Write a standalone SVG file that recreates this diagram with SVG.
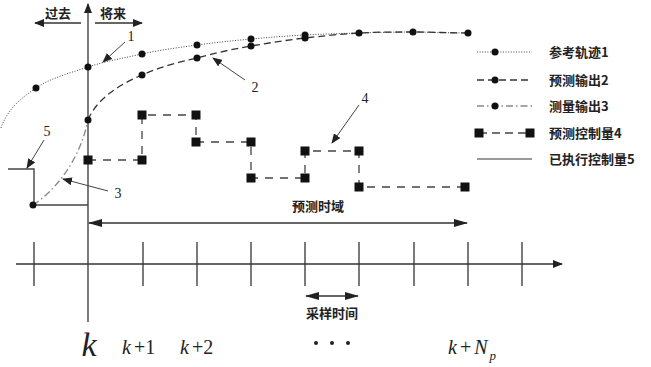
<svg xmlns="http://www.w3.org/2000/svg" width="651" height="367" viewBox="0 0 651 367">
<defs>
<marker id="ah" markerWidth="10" markerHeight="8" refX="9" refY="4" orient="auto" markerUnits="userSpaceOnUse"><path d="M0,0 L10,4 L0,8 Z" fill="#222"/></marker>
<marker id="ahs" markerWidth="14" markerHeight="8" refX="13" refY="4" orient="auto-start-reverse" markerUnits="userSpaceOnUse"><path d="M0,0 L14,4 L0,8 Z" fill="#222"/></marker>
<circle id="dot" r="3.5" fill="#111"/>
<rect id="sq" x="-4.5" y="-4.5" width="9" height="9" fill="#111"/>
</defs>
<style>
.ax{stroke:#333;stroke-width:1.3;fill:none}
.ref{stroke:#444;stroke-width:1;stroke-dasharray:1 1.6;fill:none}
.pred{stroke:#333;stroke-width:1.3;stroke-dasharray:7 4;fill:none}
.meas{stroke:#888;stroke-width:1.3;stroke-dasharray:7 3 1.5 3;fill:none}
.ctl{stroke:#444;stroke-width:1.3;stroke-dasharray:8 7;fill:none}
.exe{stroke:#444;stroke-width:1.4;fill:none}
.lead{stroke:#444;stroke-width:1;fill:none}
.cn{font-family:"Noto Sans CJK SC","Noto Sans",sans-serif;font-weight:bold;font-size:13px;fill:#222}
.num{font-family:"Liberation Serif",serif;font-size:14px;fill:#222}
.mt{font-family:"Liberation Serif",serif;font-style:italic;fill:#222}
.mr{font-family:"Liberation Serif",serif;fill:#222}
</style>

<g id="connectors">
<!-- vertical axis -->
<line class="ax" x1="88" y1="322" x2="88" y2="4" marker-end="url(#ah)"/>
<!-- past / future arrows -->
<line class="ax" x1="81" y1="23" x2="35" y2="23" marker-end="url(#ah)"/>
<line class="ax" x1="95" y1="23" x2="142" y2="23" marker-end="url(#ah)"/>
<!-- time axis -->
<line class="ax" x1="16" y1="264" x2="562" y2="264" marker-end="url(#ah)"/>
<g class="ax">
<line x1="34" y1="242" x2="34" y2="286"/>
<line x1="143" y1="242" x2="143" y2="286"/>
<line x1="197" y1="242" x2="197" y2="286"/>
<line x1="251" y1="242" x2="251" y2="286"/>
<line x1="305" y1="242" x2="305" y2="286"/>
<line x1="359" y1="242" x2="359" y2="286"/>
<line x1="414" y1="242" x2="414" y2="286"/>
<line x1="468" y1="242" x2="468" y2="286"/>
<line x1="522" y1="242" x2="522" y2="286"/>
</g>
<!-- prediction horizon -->
<line class="ax" x1="89" y1="223" x2="467" y2="223" marker-start="url(#ahs)" marker-end="url(#ahs)"/>
<!-- sampling time -->
<line class="ax" x1="306" y1="296" x2="358" y2="296" marker-start="url(#ahs)" marker-end="url(#ahs)"/>

<!-- reference trajectory -->
<path class="ref" d="M1,128 C8,108 21.5,98 36,88 C50.5,78 70,73 88,67 C106,61 124,58 142,54 C160,50 179,47.5 197,45 C215,42.5 233,40.7 251,39 C269,37.3 287,36 305,35 C323,34 341,33.5 359,33 C377,32.5 395,32 413,32 C431,32 450,33 468,33"/>
<!-- predicted output -->
<path class="pred" d="M88,120 C96,100 118,85 142,75 C160,67 179,62 197,58 C215,53 233,49 251,46 C269,43 287,40 305,38 C323,36 341,34 359,33 C377,32 395,32 413,32 C431,32 450,33 468,33"/>
<!-- measured output -->
<path class="meas" d="M33,205 C55,191 80,160 88,120"/>
<!-- executed control -->
<polyline class="exe" points="8,169 34,169 34,205 88,205"/>
<!-- predicted control -->
<polyline class="ctl" points="88,160 142,160 142,115 196,115 196,142 251,142 251,178 305,178 305,151 359,151 359,187 465,187"/>

<!-- leaders -->
<line class="lead" x1="125" y1="42" x2="103" y2="62" marker-end="url(#ah)"/>
<line class="lead" x1="245" y1="80" x2="213" y2="58" marker-end="url(#ah)"/>
<line class="lead" x1="359" y1="105" x2="332" y2="143" marker-end="url(#ah)"/>
<line class="lead" x1="44" y1="140" x2="27" y2="168" marker-end="url(#ah)"/>
<line class="lead" x1="108" y1="191" x2="63" y2="179" marker-end="url(#ah)"/>
</g>

<g id="ref-dots">
<use href="#dot" x="36" y="88"/><use href="#dot" x="88" y="67"/><use href="#dot" x="142" y="54"/><use href="#dot" x="197" y="45"/><use href="#dot" x="251" y="39"/><use href="#dot" x="305" y="35"/><use href="#dot" x="359" y="33"/><use href="#dot" x="413" y="32"/><use href="#dot" x="468" y="33"/>
</g>
<g id="pred-dots">
<use href="#dot" x="88" y="120"/><use href="#dot" x="142" y="75"/><use href="#dot" x="197" y="58"/><use href="#dot" x="251" y="46"/><use href="#dot" x="305" y="38"/>
</g>
<g id="meas-dots">
<use href="#dot" x="33" y="205" r="3"/>
</g>
<g id="ctl-squares">
<use href="#sq" x="88" y="160"/><use href="#sq" x="142" y="160"/><use href="#sq" x="142" y="115"/><use href="#sq" x="196" y="115"/><use href="#sq" x="196" y="142"/><use href="#sq" x="251" y="142"/><use href="#sq" x="251" y="178"/><use href="#sq" x="305" y="178"/><use href="#sq" x="305" y="151"/><use href="#sq" x="359" y="151"/><use href="#sq" x="359" y="187"/><use href="#sq" x="465" y="187"/>
</g>

<g id="labels">
<text class="cn" x="58" y="18" text-anchor="middle">过去</text>
<text class="cn" x="113" y="18" text-anchor="middle">将来</text>
<text class="num" x="131" y="41" text-anchor="middle">1</text>
<text class="num" x="255" y="92" text-anchor="middle">2</text>
<text class="num" x="365" y="103" text-anchor="middle">4</text>
<text class="num" x="47" y="136" text-anchor="middle">5</text>
<text class="num" x="118" y="198" text-anchor="middle">3</text>
<text class="cn" x="318" y="211" text-anchor="middle">预测时域</text>
<text class="cn" x="332" y="318" text-anchor="middle">采样时间</text>
</g>

<g id="k-labels">
<text class="mt" x="89" y="356" font-size="34" text-anchor="middle">k</text>
<text x="122" y="354" font-size="20"><tspan class="mt">k</tspan><tspan class="mr" dx="3">+1</tspan></text>
<text x="180" y="354" font-size="20"><tspan class="mt">k</tspan><tspan class="mr" dx="3">+2</tspan></text>
<g fill="#222"><circle cx="316" cy="343" r="2"/><circle cx="332" cy="343" r="2"/><circle cx="348" cy="343" r="2"/></g>
<text x="448" y="354" font-size="20"><tspan class="mt">k</tspan><tspan class="mr" dx="3">+</tspan><tspan class="mt" dx="3">N</tspan><tspan class="mt" font-size="13" dx="2" dy="6">p</tspan></text>
</g>

<g id="legend">
<line class="ref" x1="477" y1="52" x2="532" y2="52"/><use href="#dot" x="495" y="52"/>
<text class="cn" x="549" y="57">参考轨迹1</text>
<line class="pred" x1="477" y1="80" x2="532" y2="80"/><use href="#dot" x="495" y="80"/>
<text class="cn" x="549" y="85">预测输出2</text>
<line class="meas" x1="477" y1="106" x2="532" y2="106"/><use href="#dot" x="495" y="106"/>
<text class="cn" x="549" y="111">测量输出3</text>
<line class="ctl" x1="479" y1="133" x2="530" y2="133" style="stroke-dasharray:8 5"/><use href="#sq" x="479" y="133"/><use href="#sq" x="530" y="133"/>
<text class="cn" x="549" y="138">预测控制量4</text>
<line class="exe" x1="477" y1="159" x2="532" y2="159" style="stroke:#777"/>
<text class="cn" x="549" y="164">已执行控制量5</text>
</g>
</svg>
